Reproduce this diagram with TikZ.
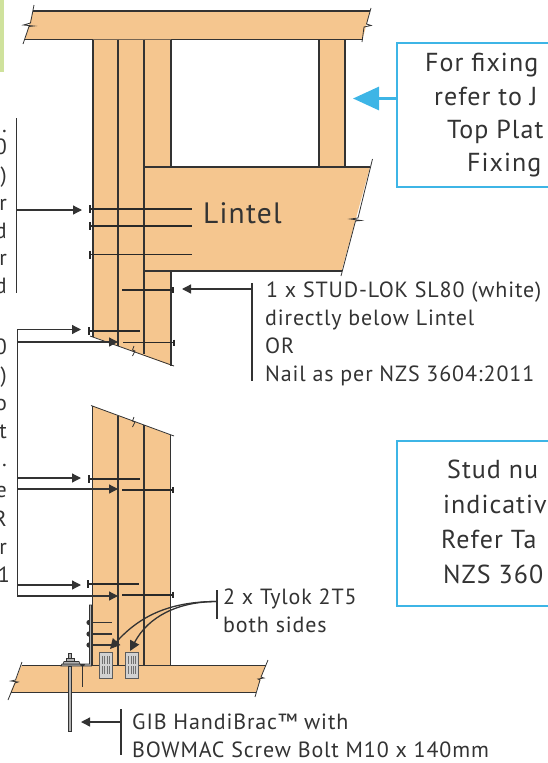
\documentclass[tikz,border=0pt]{standalone}
\usepackage{fontspec}
\setmainfont[LetterSpace=4]{PT Sans}
\usetikzlibrary{arrows.meta}
\definecolor{wood}{HTML}{F5C68F}
\definecolor{ink}{HTML}{333333}
\definecolor{sky}{HTML}{3DB5E6}
\definecolor{lime}{HTML}{CFE29C}
\tikzset{
  member/.style={fill=wood,draw=none},
  edge/.style={draw=ink,line width=1.4pt},
  thin edge/.style={draw=ink,line width=.8pt},
  nail/.style={draw=ink!80!black,line width=1.6pt},
  leader/.style={draw=ink,line width=1.3pt},
  arr/.style={leader,-{Triangle[length=9pt,width=9pt]}},
  bigarr/.style={leader,-{Triangle[length=10pt,width=10pt]}},
  lab/.style={inner sep=0pt,anchor=base west,font=\fontsize{22}{22}\selectfont,text=ink},
  biglab/.style={inner sep=0pt,anchor=base west,font=\fontsize{26}{26}\selectfont,text=ink},
  frag/.style={inner sep=0pt,anchor=base east,font=\fontsize{22}{22}\selectfont,text=ink},
  callout/.style={draw=sky,line width=2.6pt,fill=white},
  plate/.style={fill=black!18,draw=ink!80,line width=.9pt},
}
\newcommand{\nailL}[3]{\draw[nail] (#1,#3) -- (#2,#3); \draw[nail] (#1,#3-4) -- (#1,#3+4);}
\newcommand{\nailR}[3]{\draw[nail] (#1,#3) -- (#2,#3); \draw[nail,line width=1.8pt] (#2,#3-3) -- (#2,#3+3);}
\begin{document}
\begin{tikzpicture}[x=1pt,y=-1pt]
\useasboundingbox (0,0) rectangle (547,763);
\fill[lime] (0,0) rectangle (4,72);
% top plate
\fill[member] (33,11) -- (370,11) -- (362.5,39.5) -- (25,39.5) -- cycle;
\draw[edge] (33,11) -- (370,11) (25,39.5) -- (362.5,39.5);
\draw[thin edge] (34,5) -- (30.5,23) -- (23.5,25) -- (33.5,26) -- (29,26.5) -- (23,44);
\draw[thin edge] (371,8) -- (366.5,24) -- (371,25.5) -- (364,27) -- (362,42);
% upper stud pack
\fill[member] (93,39.5) -- (171,39.5) -- (171,365.5) -- (93,336.5) -- cycle;
\fill[member] (144.5,167) -- (370,167) -- (341.5,271) -- (144.5,271) -- cycle;
\fill[member] (319,39.5) rectangle (345,167);
\draw[edge] (93,39.5) -- (93,336.5);
\draw[edge] (118.1,39.5) -- (118.1,346);
\draw[edge] (144.1,39.5) -- (144.1,354);
\draw[edge] (171,39.5) -- (171,167);
\draw[edge] (171,271) -- (171,365.5);
\draw[edge] (319,39.5) -- (319,167) (345,39.5) -- (345,167);
\draw[edge] (144.1,167) -- (370,167) (144.1,271) -- (341.5,271);
\draw[thin edge] (372.5,159) -- (358,218) -- (350.5,219) -- (361,220.5) -- (355.5,221) -- (341,276);
\draw[thin edge] (90,336) -- (174,366);
\draw[thin edge] (134,346) -- (132.5,350) -- (135,351) -- (132.5,356);
% lower stud pack
\fill[member] (92.5,406) -- (170.5,435) -- (170.5,665.5) -- (92.5,665.5) -- cycle;
\draw[edge] (92.5,406) -- (92.5,665.5);
\draw[edge] (118,416) -- (118,665.5);
\draw[edge] (144,425) -- (144,665.5);
\draw[edge] (170.5,435) -- (170.5,665.5);
\draw[thin edge] (91,405.5) -- (174,436);
\draw[thin edge] (134,417) -- (132.5,421) -- (135,422) -- (132.5,427);
% bottom plate
\fill[member] (21.5,665.5) -- (265.5,665.5) -- (256,692.5) -- (10.5,692.5) -- cycle;
\draw[edge] (21.5,665.5) -- (265.5,665.5) (10.5,692.5) -- (256,692.5);
\draw[thin edge] (22,662) -- (15.5,680) -- (11,681) -- (18,682) -- (15,683) -- (8,700);
\draw[thin edge] (268,660) -- (261,677) -- (264,678) -- (258,679) -- (260,680) -- (255,697);
% nails
\nailL{90}{192}{209}
\nailL{90}{192}{226}
\nailL{90}{192}{254.5}
\nailR{122}{173}{290}
\nailL{89}{140}{331}
\nailR{123}{174}{342.5}
\nailL{89}{140}{479}
\nailR{122}{173}{490}
\nailL{88}{139}{584}
\nailR{122}{173}{594.7}
% HandiBrac
\foreach \y in {622.5,634,645}{
  \fill[ink] (89,\y) circle (2.6pt);
  \draw[leader] (92,\y) -- (112,\y);
}
\fill[black!30] (89.5,605) -- (91.5,605) -- (91.5,666) -- (61,666) -- (62,664) -- (89.5,664) -- cycle;
\draw[ink,line width=.7pt] (89.5,605) -- (89.5,664) -- (62,664) -- (61,666) -- (91.5,666) -- (91.5,605) -- cycle;
\fill[black!30,draw=ink,line width=.6pt] (63,664) -- (64,661.5) -- (79,661.5) -- (80,664) -- cycle;
\fill[black!30,draw=ink,line width=.6pt] (66,658) rectangle (74,661.5);
\fill[black!30,draw=ink,line width=.6pt] (68.5,653) rectangle (71.5,658);
\fill[ink] (80,664) arc (180:0:2.5);
\draw[leader] (82.5,666) -- (82.5,686.5);
\fill[black!30,draw=ink,line width=.7pt] (68.3,666) rectangle (71.5,731);
% Tylok plates
\foreach \x in {99,125.3}{
  \draw[plate] (\x,652) rectangle (\x+13.3,678);
  \foreach \d in {3.5,5.7,7.9,10.1}{
    \draw[ink!70,line width=.8pt] (\x+\d,656) -- (\x+\d,664) (\x+\d,666) -- (\x+\d,674);
  }
}
% text and leaders
\coordinate (barA1) at (16.5,118); \coordinate (barA2) at (16.5,293);
\draw[leader] (barA1) -- (barA2);
\coordinate (barAm) at (16.5,210); \coordinate (tipA) at (82,210);
\draw[arr] (barAm) -- (tipA);
\coordinate (barB1) at (17.5,329); \coordinate (barB2) at (17.5,596);
\draw[leader] (barB1) -- (barB2);
\foreach \y/\x in {329.5/81,342/118,478/81,489/118,585/81,596/118}{
  \draw[arr] (17,\y) -- (\x,\y);
}
\node[frag] (f1) at (7,132) {.};
\node[frag] (f2) at (7,154) {0};
\node[frag] (f3) at (7,182) {)};
\node[frag] (f4) at (7,210) {r};
\node[frag] (f5) at (7,238) {d};
\node[frag] (f6) at (7,265) {r};
\node[frag] (f7) at (7,293) {d};
\node[frag] (f8) at (7,354) {0};
\node[frag] (f9) at (7,382) {)};
\node[frag] (f10) at (7,410) {o};
\node[frag] (f11) at (7,438) {t};
\node[frag] (f12) at (7,466) {.};
\node[frag] (f13) at (7,497) {e};
\node[frag] (f14) at (7,526) {R};
\node[frag] (f15) at (7,554) {r};
\node[frag] (f16) at (10,582) {1};
\node[lab,font=\fontsize{29.5}{30}\selectfont] (lintel) at (203,223) {Lintel};
\coordinate (sA) at (252,283); \coordinate (sB) at (252,381); \coordinate (sM) at (252,289); \coordinate (sT) at (182,289);
\draw[leader] (sA) -- (sB);
\draw[arr] (sM) -- (sT);
\node[lab] (s1) at (266,297) {1 x STUD-LOK SL80 (white)};
\node[lab] (s2) at (265,325) {directly below Lintel};
\node[lab] (s3) at (265,353) {OR};
\node[lab] (s4) at (265,381) {Nail as per NZS 3604:2011};
\coordinate (tA) at (217,590); \coordinate (tB) at (217,619); \coordinate (tM) at (217,601.5);
\coordinate (tT1) at (110,649); \coordinate (tT2) at (130,651);
\draw[leader] (tA) -- (tB);
\draw[bigarr] (tM) to[out=180,in=48] (tT1);
\draw[bigarr] (tM) to[out=180,in=62] (tT2);
\node[lab] (t1) at (223,604) {2 x Tylok 2T5};
\node[lab] (t2) at (223,632) {both sides};
\coordinate (gA) at (121,709); \coordinate (gB) at (121,755); \coordinate (gM) at (121,722); \coordinate (gT) at (81,722);
\draw[leader] (gA) -- (gB);
\draw[arr] (gM) -- (gT);
\node[lab] (g1) at (132,729) {GIB HandiBrac™ with};
\node[lab] (g2) at (132,757) {BOWMAC Screw Bolt M10 x 140mm};
% callouts
\draw[callout] (560,43) -- (397,43) -- (397,187) -- (560,187);
\coordinate (cA) at (397,98.5); \coordinate (cT) at (353,98.5);
\draw[draw=sky,line width=3pt,-{Triangle[length=26pt,width=23pt]}] (cA) -- (cT);
\node[biglab] (c1) at (425,71) {For fixing};
\node[biglab] (c2) at (434,105) {refer to J};
\node[biglab] (c3) at (447,138) {Top Plat};
\node[biglab] (c4) at (467,171) {Fixing};
\draw[callout] (560,441) -- (397,441) -- (397,606) -- (560,606);
\node[biglab] (d1) at (447,478) {Stud nu};
\node[biglab] (d2) at (443,513) {indicativ};
\node[biglab] (d3) at (441,548) {Refer Ta};
\node[biglab] (d4) at (443,583) {NZS 360};
\end{tikzpicture}
\end{document}
